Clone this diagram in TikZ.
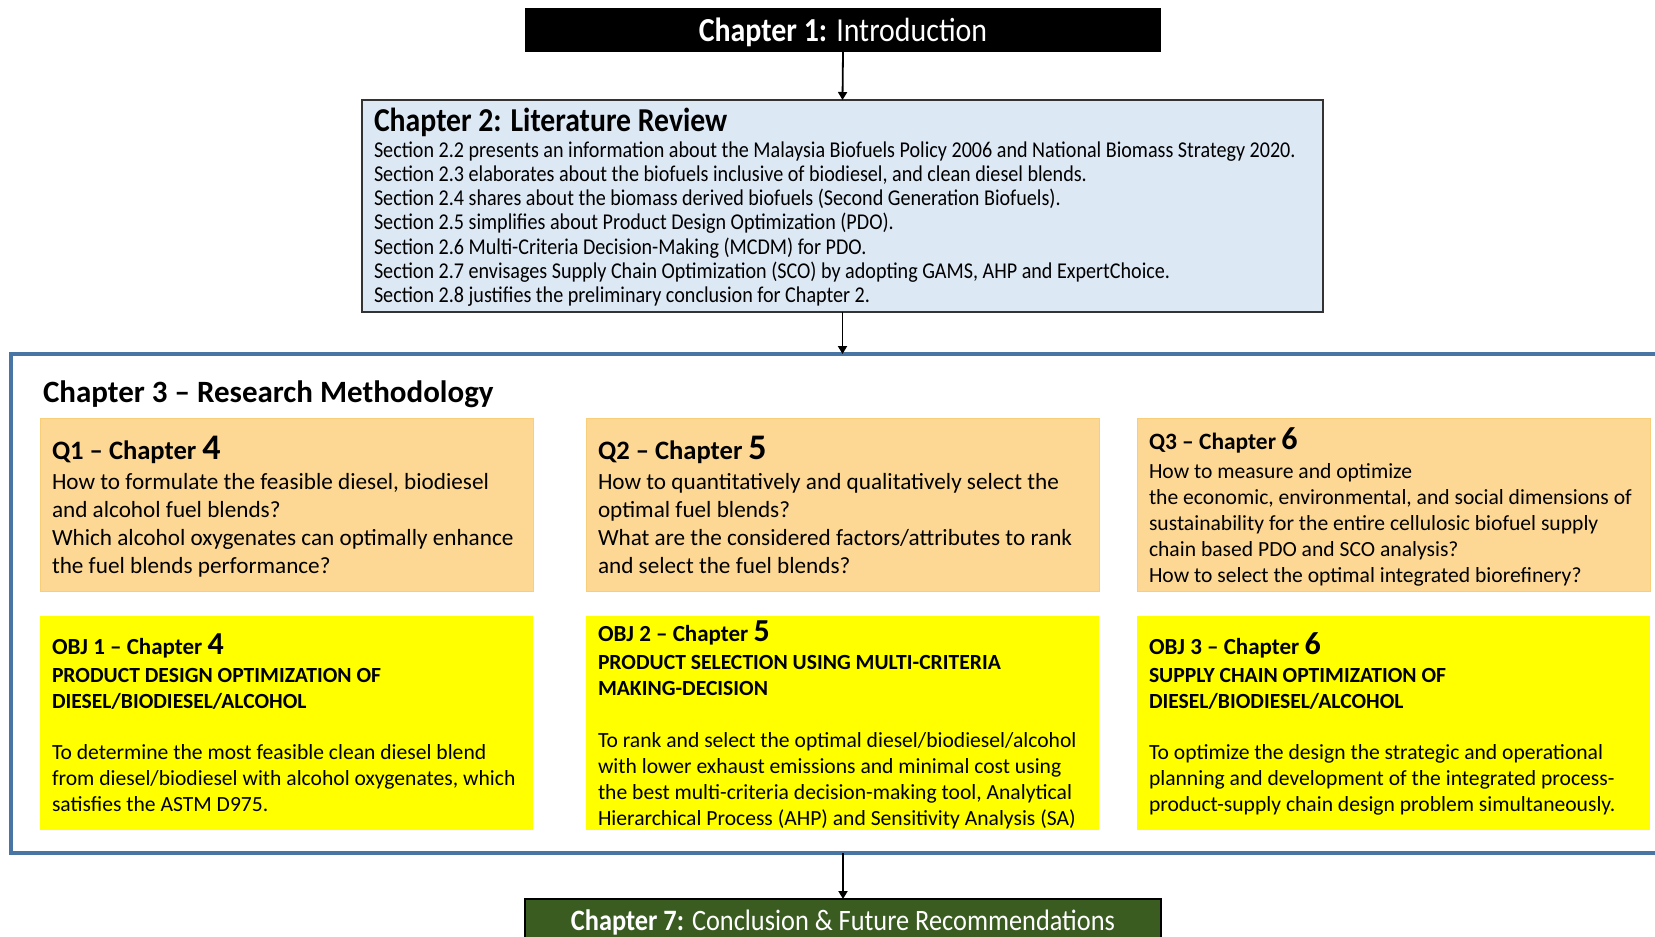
\documentclass[tikz,border=0pt]{standalone}
\usepackage{fontspec}
\setmainfont{Carlito}
\newfontfamily\narrowfont[FakeStretch=0.89]{Carlito}
\usetikzlibrary{arrows.meta}
\definecolor{qfill}{RGB}{253,216,148}
\definecolor{qedge}{RGB}{248,206,120}
\definecolor{objfill}{RGB}{255,255,0}
\definecolor{chtwo}{RGB}{221,232,245}
\definecolor{chthree}{RGB}{72,117,164}
\definecolor{chseven}{RGB}{58,92,33}
\newcommand\fs[2]{\fontsize{#1}{#2}\selectfont}
\newcommand\txtlines[1]{\parbox[t]{600pt}{\raggedright #1}}
\begin{document}
\begin{tikzpicture}[x=0.5pt,y=-0.5pt,
  box/.style={anchor=north west, inner sep=0pt, outer sep=0pt},
  txt/.style={anchor=base west, inner sep=0pt, outer sep=0pt},
  qbox/.style={box, fill=qfill, draw=qedge, line width=0.5pt, minimum height=86.5pt},
  objbox/.style={box, fill=objfill, minimum height=107pt},
  arr/.style={-{Triangle[length=4pt,width=4.5pt]}, line width=0.9pt}]
\clip (0,0) rectangle (1655,937);
% chapter 1
\node[box, fill=black, text=white, minimum width=318pt, minimum height=22pt] (ch1) at (525,8)
  {\raisebox{-1pt}[\height][\depth]{\narrowfont\fs{16.8}{18}\textbf{Chapter 1:} Introduction}};
% chapter 2
\node[box, fill=chtwo, draw=black!80, line width=1pt, minimum width=480.5pt, minimum height=106pt] (ch2) at (362,100) {};
\node[txt] (ch2t) at (374,131) {\txtlines{\narrowfont\fs{16.7}{17}\textbf{Chapter 2: Literature Review}}};
\node[txt] (ch2b) at (374,157) {\txtlines{\narrowfont\fs{11.3}{12.15}%
Section 2.2 presents an information about the Malaysia Biofuels Policy 2006 and National Biomass Strategy 2020.\\
Section 2.3 elaborates about the biofuels inclusive of biodiesel, and clean diesel blends.\\
Section 2.4 shares about the biomass derived biofuels (Second Generation Biofuels).\\
Section 2.5 simplifies about Product Design Optimization (PDO).\\
Section 2.6 Multi-Criteria Decision-Making (MCDM) for PDO.\\
Section 2.7 envisages Supply Chain Optimization (SCO) by adopting GAMS, AHP and ExpertChoice.\\
Section 2.8 justifies the preliminary conclusion for Chapter 2.}};
% chapter 3 frame
\node[box, draw=chthree, line width=2pt, minimum width=830pt, minimum height=249.5pt] (ch3) at (11,354) {};
\node[txt] (ch3t) at (43,402) {\fs{15.5}{17}\textbf{Chapter 3 – Research Methodology}};
% questions
\node[qbox, minimum width=246.5pt] (q1) at (40,418) {};
\node[qbox, minimum width=256.5pt] (q2) at (586,418) {};
\node[qbox, minimum width=256.5pt] (q3) at (1137,418) {};
\node[txt] (q1t) at (52,459) {\txtlines{\fs{11.6}{14}%
{\fs{13.3}{14}\textbf{Q1 – Chapter {\fs{18}{18}4}}}\\[1pt]
How to formulate the feasible diesel, biodiesel\\
and alcohol fuel blends?\\
Which alcohol oxygenates can optimally enhance\\
the fuel blends performance?}};
\node[txt] (q2t) at (598,459) {\txtlines{\fs{11.6}{14}%
{\fs{13.3}{14}\textbf{Q2 – Chapter {\fs{18}{18}5}}}\\[1pt]
How to quantitatively and qualitatively select the\\
optimal fuel blends?\\
What are the considered factors/attributes to rank\\
and select the fuel blends?}};
\node[txt] (q3t) at (1149,449) {\txtlines{\fs{10.8}{13}%
{\fs{11.7}{13}\textbf{Q3 – Chapter {\fs{16}{16}6}}}\\[1.5pt]
How to measure and optimize\\
the economic, environmental, and social dimensions of\\
sustainability for the entire cellulosic biofuel supply\\
chain based PDO and SCO analysis?\\
How to select the optimal integrated biorefinery?}};
% objectives
\node[objbox, minimum width=246.5pt] (o1) at (40,616) {};
\node[objbox, minimum width=256.5pt] (o2) at (586,616) {};
\node[objbox, minimum width=256.5pt] (o3) at (1137,616) {};
\node[txt] (o1t) at (52,654) {\txtlines{\fs{10.8}{13}%
{\fs{11.5}{13}\textbf{OBJ 1 – Chapter {\fs{16}{16}4}}}\\[1pt]
\textbf{PRODUCT DESIGN OPTIMIZATION OF}\\
\textbf{DIESEL/BIODIESEL/ALCOHOL}\\[12.5pt]
To determine the most feasible clean diesel blend\\
from diesel/biodiesel with alcohol oxygenates, which\\
satisfies the ASTM D975.}};
\node[txt] (o2t) at (598,641) {\txtlines{\fs{10.8}{13}%
{\fs{11.5}{13}\textbf{OBJ 2 – Chapter {\fs{16}{16}5}}}\\[1pt]
\textbf{PRODUCT SELECTION USING MULTI-CRITERIA}\\
\textbf{MAKING-DECISION}\\[13pt]
To rank and select the optimal diesel/biodiesel/alcohol\\
with lower exhaust emissions and minimal cost using\\
the best multi-criteria decision-making tool, Analytical\\
Hierarchical Process (AHP) and Sensitivity Analysis (SA)}};
\node[txt] (o3t) at (1149,654) {\txtlines{\fs{10.8}{13}%
{\fs{11.5}{13}\textbf{OBJ 3 – Chapter {\fs{16}{16}6}}}\\[1pt]
\textbf{SUPPLY CHAIN OPTIMIZATION OF}\\
\textbf{DIESEL/BIODIESEL/ALCOHOL}\\[12.5pt]
To optimize the design the strategic and operational\\
planning and development of the integrated process-\\
product-supply chain design problem simultaneously.}};
% chapter 7
\node[box, fill=chseven, draw=black, line width=0.8pt, text=white, minimum width=318pt, minimum height=23pt] (ch7) at (525,899)
  {\narrowfont\fs{14.8}{16}\textbf{Chapter 7:} Conclusion \& Future Recommendations};
% arrows
\draw[arr] (ch1.south) -- (ch2.north);
\draw[arr] (ch2.south) -- (ch2.south |- ch3.north);
\draw[arr] (ch7.north |- ch3.south) -- (ch7.north);
\end{tikzpicture}
\end{document}
